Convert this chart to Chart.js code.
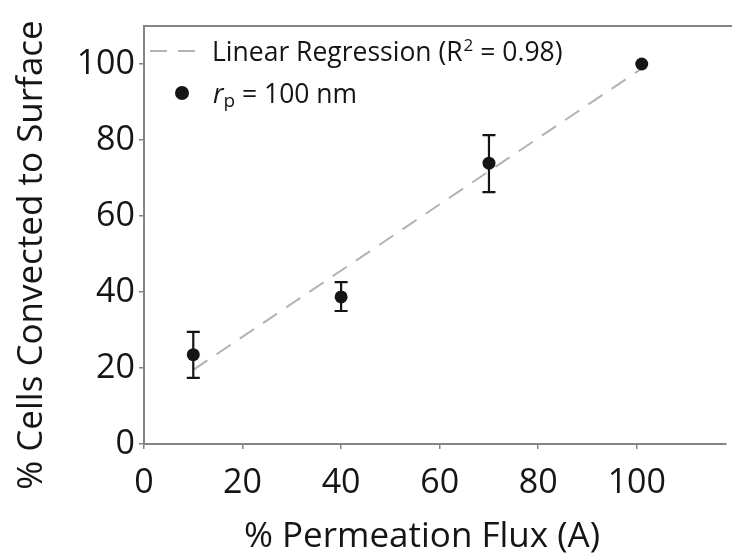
<!DOCTYPE html>
<html><head><meta charset="utf-8">
<script src="https://cdn.jsdelivr.net/npm/chart.js@4/dist/chart.umd.min.js"></script>
<style>html,body{margin:0;padding:0;background:#fff}#wrap{width:732px;height:558px}</style>
</head><body><div id="wrap"><canvas id="c" width="732" height="558"></canvas></div>
<script>
// ---- data ----
const fluxPercent  = [10, 40, 70, 101];        // x: % Permeation Flux (A)
const cellsPercent = [23.5, 38.7, 73.9, 100];  // y: % Cells Convected to Surface
const errUpper     = [29.5, 42.6, 81.3, 100];
const errLower     = [17.4, 35.0, 66.3, 100];
const fitX = [10, 101];                        // linear regression endpoints
const fitY = [19.5, 98.8];
const xTickValues = [0, 20, 40, 60, 80, 100];
const yTickValues = [0, 20, 40, 60, 80, 100];
const xTitle = '% Permeation Flux (A)';
const yTitle = '% Cells Convected to Surface';
const fitLabel = ['Linear Regression (R', '2', ' = 0.98)'];
const ptsLabel = ['r', 'p', ' = 100 nm'];

const FONT = '"Open Sans", "Noto Sans", sans-serif';
const AXIS = '#858585';
const INK = '#151515';
const FIT = '#b3b3b3';

const extras = {
  id: 'extras',
  afterDatasetsDraw(chart) {
    const {ctx, scales: {x, y}} = chart;
    ctx.save();
    ctx.strokeStyle = INK; ctx.lineWidth = 2.2;
    for (let i = 0; i < fluxPercent.length; i++) {
      if (errUpper[i] === errLower[i]) continue;
      const px = x.getPixelForValue(fluxPercent[i]);
      const t = y.getPixelForValue(errUpper[i]);
      const b = y.getPixelForValue(errLower[i]);
      ctx.beginPath();
      ctx.moveTo(px, t); ctx.lineTo(px, b);
      ctx.moveTo(px - 6.5, t); ctx.lineTo(px + 6.5, t);
      ctx.moveTo(px - 6.5, b); ctx.lineTo(px + 6.5, b);
      ctx.stroke();
    }
    ctx.restore();
  },
  afterDraw(chart) {
    const {ctx, chartArea: a} = chart;
    ctx.save();
    // top frame line
    ctx.strokeStyle = AXIS; ctx.lineWidth = 2;
    ctx.beginPath(); ctx.moveTo(a.left - 1, a.top); ctx.lineTo(chart.width, a.top); ctx.stroke();

    // legend
    ctx.strokeStyle = FIT; ctx.lineWidth = 2; ctx.setLineDash([17, 11]);
    ctx.beginPath(); ctx.moveTo(a.left + 6, a.top + 25); ctx.lineTo(a.left + 62, a.top + 25); ctx.stroke();
    ctx.setLineDash([]);
    ctx.fillStyle = INK; ctx.textAlign = 'left'; ctx.textBaseline = 'alphabetic';
    const LF = '26.5px ' + FONT;
    let tx = a.left + 68, ty = a.top + 35;
    ctx.font = LF; ctx.fillText(fitLabel[0], tx, ty); tx += ctx.measureText(fitLabel[0]).width + 1;
    ctx.font = '17px ' + FONT; ctx.fillText(fitLabel[1], tx, ty - 10); tx += ctx.measureText(fitLabel[1]).width;
    ctx.font = LF; ctx.fillText(fitLabel[2], tx, ty);

    ctx.beginPath(); ctx.arc(a.left + 38, a.top + 67, 7, 0, Math.PI * 2); ctx.fill();
    tx = a.left + 69; ty = a.top + 77;
    ctx.font = 'italic ' + LF; ctx.fillText(ptsLabel[0], tx, ty); tx += ctx.measureText(ptsLabel[0]).width;
    ctx.font = '19px ' + FONT; ctx.fillText(ptsLabel[1], tx, ty + 4); tx += ctx.measureText(ptsLabel[1]).width;
    ctx.font = LF; ctx.fillText(ptsLabel[2], tx, ty);

    // axis titles
    ctx.font = '35px ' + FONT;
    ctx.textAlign = 'center';
    ctx.fillText(xTitle, a.left + 278, a.bottom + 103);
    ctx.translate(32, a.top + 229);
    ctx.rotate(-Math.PI / 2);
    ctx.textBaseline = 'middle';
    ctx.fillText(yTitle, 0, 0);
    ctx.restore();
  }
};

new Chart(document.getElementById('c'), {
  type: 'scatter',
  data: {
    datasets: [
      {
        label: 'Linear Regression',
        data: fitX.map((v, i) => ({x: v, y: fitY[i]})),
        showLine: true, borderColor: FIT, borderWidth: 2, borderDash: [17, 11],
        pointRadius: 0, order: 2
      },
      {
        label: 'rp = 100 nm',
        data: fluxPercent.map((v, i) => ({x: v, y: cellsPercent[i]})),
        backgroundColor: INK, borderColor: INK, pointRadius: 6.5, borderWidth: 0, order: 1
      }
    ]
  },
  options: {
    responsive: false, animation: false,
    layout: {padding: {top: 26, right: 1, left: 0, bottom: 0}},
    plugins: {legend: {display: false}, tooltip: {enabled: false}},
    scales: {
      x: {
        type: 'linear', min: 0, max: 118,
        afterFit(s) { s.height = 114; },
        afterBuildTicks(s) { s.ticks = xTickValues.map(v => ({value: v})); },
        ticks: {font: {family: FONT, size: 34}, color: INK, padding: 14, maxRotation: 0},
        grid: {drawOnChartArea: false, drawTicks: true, tickLength: 5, color: AXIS, lineWidth: 1.5},
        border: {display: true, color: AXIS, width: 2}
      },
      y: {
        type: 'linear', min: 0, max: 110,
        afterFit(s) { s.width = 144; },
        afterBuildTicks(s) { s.ticks = yTickValues.map(v => ({value: v})); },
        ticks: {font: {family: FONT, size: 34}, color: INK, padding: 4},
        grid: {drawOnChartArea: false, drawTicks: true, tickLength: 5, color: AXIS, lineWidth: 1.5},
        border: {display: true, color: AXIS, width: 2}
      }
    }
  },
  plugins: [extras]
});
</script>
</body></html>
